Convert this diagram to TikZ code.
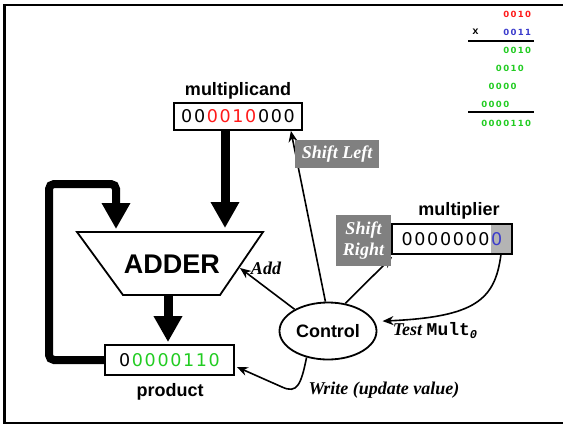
\documentclass[tikz,border=0pt]{standalone}
\usepackage{fontspec}
\setmainfont{Liberation Sans}
\newfontfamily\lserif{Liberation Serif}
\newfontfamily\digitfont{DejaVu Sans}
\newfontfamily\lmono{Liberation Mono}
\usetikzlibrary{arrows.meta,calc,shapes.geometric}

\definecolor{dgreen}{HTML}{22CC22}
\definecolor{dred}{HTML}{FF1A1A}
\definecolor{dblue}{HTML}{3C3CCC}
\definecolor{lblgray}{HTML}{808080}
\definecolor{cellgray}{HTML}{B4B4B4}

\newlength\dw
\newcommand\Dg[1]{\makebox[\dw]{#1}}
\newcommand\DS[1]{\DSi#1\relax}
\def\DSi#1{\ifx#1\relax\else\Dg{#1}\expandafter\DSi\fi}

\begin{document}
\begin{tikzpicture}[x=1pt,y=-1pt,
  reg/.style={draw, line width=1.8pt, inner sep=0pt,
    font={\digitfont\fontsize{17.5}{20}\selectfont\setlength\dw{12.8pt}}},
  lbl/.style={font=\bfseries\fontsize{18}{20}\selectfont, inner sep=0pt},
  glbl/.style={fill=lblgray, text=white, inner sep=0pt,
    font=\lserif\bfseries\itshape\fontsize{18}{21}\selectfont},
  ital/.style={font=\lserif\bfseries\itshape\fontsize{18}{20}\selectfont, inner sep=0pt},
  small/.style={font={\digitfont\bfseries\fontsize{8.5}{9}\selectfont\setlength\dw{7.3pt}}, inner sep=0pt, anchor=east},
  fat/.style={line width=9pt, -{Triangle[width=27pt,length=26pt]}},
  thin/.style={line width=1.6pt, -{Stealth[length=11pt,width=9pt]}},
  rule/.style={line width=2pt}
]
\useasboundingbox (0,0) rectangle (563,426);
\draw[line width=2.2pt] (4.5,5) rectangle (575,423);

% worked multiplication, top right
\node[small, text=dred]   (r1) at (532,14)  {\DS{0010}};
\node[font=\lmono\bfseries\fontsize{10.5}{10}\selectfont, inner sep=0pt] (times) at (475.5,32) {x};
\node[small, text=dblue]  (r2) at (532,32)  {\DS{0011}};
\draw[rule] (468,41) -- (534,41);
\node[small, text=dgreen] (r3) at (532,50)  {\DS{0010}};
\node[small, text=dgreen] (r4) at (524.7,68) {\DS{0010}};
\node[small, text=dgreen] (r5) at (517.4,86) {\DS{0000}};
\node[small, text=dgreen] (r6) at (510.1,104) {\DS{0000}};
\draw[rule] (468,112) -- (534,112);
\node[small, text=dgreen] (r7) at (532,123) {\DS{0000110}};

% registers
\node[lbl] (mcandlbl) at (238,91) {multiplicand};
\node[reg, minimum width=128pt, minimum height=27pt] (mcand) at (238,116.5)
  {\DS{00}\textcolor{dred}{\DS{0010}}\DS{000}};

\node[lbl] (mplierlbl) at (459,211) {multiplier};
\node[reg, minimum width=120pt, minimum height=30pt,
  path picture={\fill[cellgray] ([xshift=-21pt]path picture bounding box.north east)
     rectangle (path picture bounding box.south east);}] (mplier) at (452,239)
  {\DS{0000000}\textcolor{dblue}{\DS{0}}};

\node[reg, minimum width=129pt, minimum height=30pt] (prod) at (169.5,360)
  {\DS{0}\textcolor{dgreen}{\DS{0000110}}};
\node[lbl] (prodlbl) at (170,392) {product};

% adder
\draw[line width=1.8pt, line join=miter] (77,232) -- (263,232) -- (220,295) -- (123,295) -- cycle;
\node[font=\bfseries\fontsize{27}{30}\selectfont, inner sep=0pt] (adder) at (172,264) {ADDER};
\coordinate (addTL) at (116,229);
\coordinate (addTR) at (225,228);
\coordinate (addB) at (168,295);
\coordinate (addR) at (240,268);

% control
\node[ellipse, draw, line width=1.8pt, minimum width=97pt, minimum height=57pt,
  inner sep=0pt, font=\bfseries\fontsize{18}{20}\selectfont] (ctrl) at (328,331) {Control};

% fat data paths
\draw[fat] ([xshift=-13pt]mcand.south) -- (addTR);
\draw[fat] (addB) -- ([yshift=2pt]prod.north -| addB);
\draw[line width=8pt, rounded corners=5pt, -{Triangle[width=27pt,length=26pt]}]
  (prod.west) -- (49,360) -- (49,184) -- (116,184) -- (addTL);

% control signals
\draw[thin] (ctrl.147) -- (addR);
\draw[thin] (ctrl.95) -- ([xshift=-12pt]mcand.south east);
\draw[thin] (ctrl.58) -- ([shift={(1pt,-2pt)}]mplier.south west);
\draw[thin] ([xshift=-12pt]mplier.south east) .. controls (495,300) and (475,317) .. ([xshift=8pt]ctrl.12);
\draw[thin] (ctrl.231) .. controls (301,385) and (297,394) .. (282,387) -- ([shift={(2pt,-7pt)}]prod.east);

% labels
\node[glbl, minimum width=84pt, minimum height=28pt] (shl) at (337,154) {Shift Left};
\node[glbl, minimum width=55pt, minimum height=51pt, align=center] (shr) at (363.5,240.5) {Shift\\Right};
\node[ital] (addlbl) at (266,268) {Add};
\node[ital] (testlbl) at (435,331) {Test {\lmono\upshape\bfseries Mult}\raisebox{-3pt}{\lmono\itshape\bfseries\fontsize{12}{12}\selectfont 0}};
\node[ital] (writelbl) at (384,390) {Write (update value)};
\end{tikzpicture}
\end{document}
